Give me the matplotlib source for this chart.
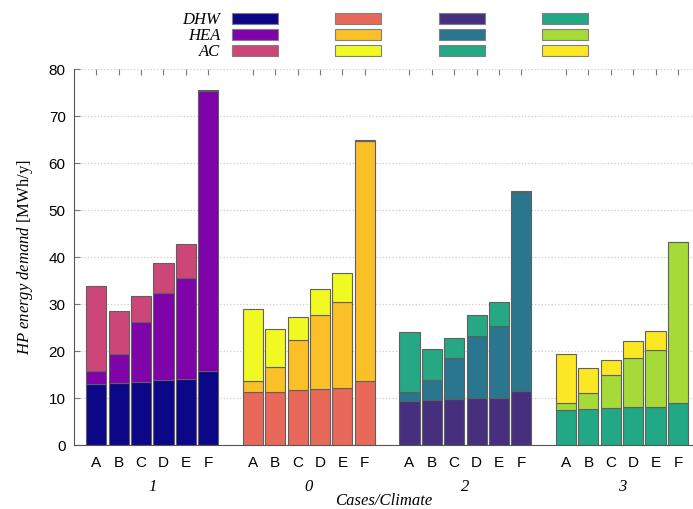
import matplotlib
matplotlib.use("Agg")
import matplotlib.pyplot as plt
from matplotlib.patches import Patch
import numpy as np

plt.rcParams['mathtext.fontset'] = 'custom'
plt.rcParams['mathtext.rm'] = 'Liberation Serif'
plt.rcParams['mathtext.it'] = 'Liberation Serif:italic'

cases = ['A', 'B', 'C', 'D', 'E', 'F']
climates = ['1', '0', '2', '3']

# MWh/y per component, one row per climate, one column per case
dhw = [[13.0, 13.2, 13.5, 13.9, 14.1, 15.7],
       [11.2, 11.3, 11.6, 11.9, 12.1, 13.6],
       [9.3, 9.5, 9.7, 9.9, 10.1, 11.4],
       [7.5, 7.6, 7.8, 8.0, 8.0, 9.0]]
hea = [[2.7, 6.1, 12.6, 18.4, 21.4, 59.6],
       [2.4, 5.2, 10.8, 15.8, 18.3, 51.0],
       [1.9, 4.4, 8.9, 13.3, 15.3, 42.4],
       [1.5, 3.4, 7.0, 10.6, 12.3, 34.1]]
ac = [[18.2, 9.3, 5.6, 6.5, 7.3, 0.3],
      [15.4, 8.1, 4.8, 5.5, 6.2, 0.2],
      [12.9, 6.6, 4.1, 4.5, 5.1, 0.2],
      [10.3, 5.3, 3.2, 3.5, 4.0, 0.2]]

dhw_colors = ['#0c0786', '#e8695a', '#46307e', '#22a884']
hea_colors = ['#7e03a8', '#fbbf28', '#2a768e', '#a5da38']
ac_colors = ['#cc4778', '#f0f921', '#25a883', '#fbe723']

fig = plt.figure(figsize=(6.93, 5.09), dpi=100)
ax = fig.add_axes([0.1068, 0.1257, 0.893, 0.7387])

edge = '#606060'
ncase = len(cases)
xticks, xlabels = [], []
for g, clim in enumerate(climates):
    x = g * (ncase + 1) + np.arange(ncase)
    d = np.array(dhw[g])
    h = np.array(hea[g])
    a = np.array(ac[g])
    ax.bar(x, d, 0.9, color=dhw_colors[g], edgecolor=edge, lw=0.8, zorder=3)
    ax.bar(x, h, 0.9, bottom=d, color=hea_colors[g], edgecolor=edge, lw=0.8, zorder=3)
    ax.bar(x, a, 0.9, bottom=d + h, color=ac_colors[g], edgecolor=edge, lw=0.8, zorder=3)
    xticks += list(x)
    xlabels += cases
    ax.text(x.mean(), -0.112, clim, transform=ax.get_xaxis_transform(),
            ha='center', va='center', fontsize=12, family='Liberation Serif', style='italic')

ax.set_xlim(-1, 26.67)
ax.set_ylim(0, 80)
ax.set_yticks(range(0, 81, 10))
ax.set_xticks(xticks)
ax.set_xticklabels(xlabels, fontsize=11, family='Liberation Sans')
for lbl in ax.get_yticklabels():
    lbl.set_family('Liberation Sans')
    lbl.set_fontsize(11)
ax.tick_params(axis='x', top=True, direction='in', length=4, color='#777777', pad=8)
ax.tick_params(axis='y', direction='in', length=4, color='#777777', pad=6)
ax.grid(axis='y', color='#cccccc', ls=':', lw=0.9, zorder=0)
for s in ['top', 'right']:
    ax.spines[s].set_visible(False)
for s in ['left', 'bottom']:
    ax.spines[s].set_color('#555555')

ax.set_ylabel(r'$\mathit{HP\ energy\ demand}$ [MWh/y]', fontsize=12,
              family='Liberation Serif', labelpad=10)
ax.text(0.5, -0.15, 'Cases/Climate', transform=ax.transAxes, ha='center', va='center',
        fontsize=12, family='Liberation Serif', style='italic')

handles, labels = [], []
for g in range(len(climates)):
    for c, name in zip([dhw_colors[g], hea_colors[g], ac_colors[g]], ['DHW', 'HEA', 'AC']):
        handles.append(Patch(facecolor=c, edgecolor='#808080', lw=0.8))
        labels.append(name if g == 0 else '')
fig.legend(handles, labels, ncol=4, markerfirst=False, frameon=False,
           loc='upper center', bbox_to_anchor=(0.556, 0.992),
           prop={'family': 'Liberation Serif', 'style': 'italic', 'size': 12},
           handlelength=2.75, handleheight=0.55, labelspacing=0.0,
           handletextpad=0.7, columnspacing=2.75, borderpad=0)

fig.savefig('out.png', dpi=100)
